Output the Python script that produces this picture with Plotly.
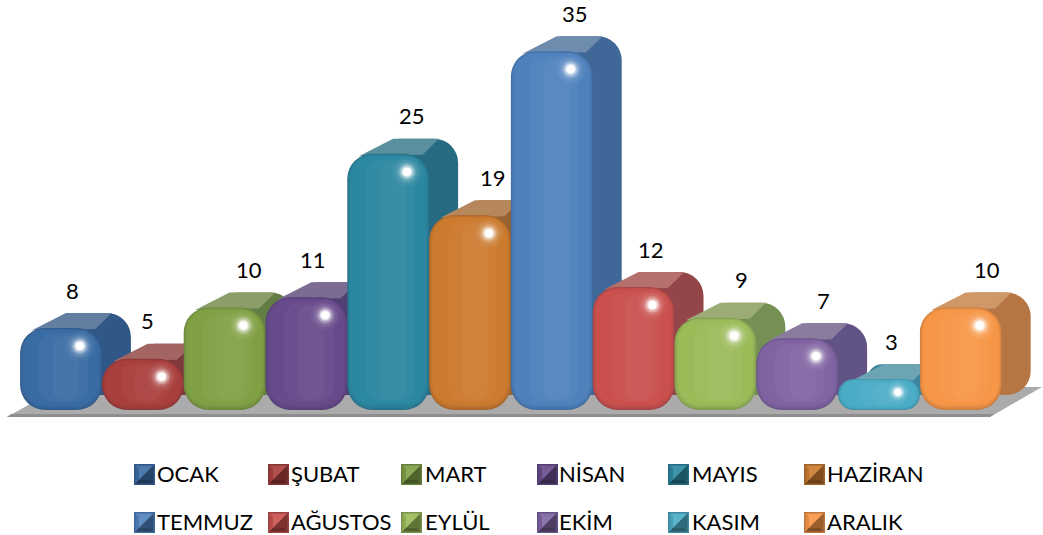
import plotly.graph_objects as go

# ---------- data ----------
months = ["OCAK", "ŞUBAT", "MART", "NİSAN", "MAYIS", "HAZİRAN",
          "TEMMUZ", "AĞUSTOS", "EYLÜL", "EKİM", "KASIM", "ARALIK"]
values = [8, 5, 10, 11, 25, 19, 35, 12, 9, 7, 3, 10]

# ---------- styles ----------
base_colors = ["#3A6CA4", "#A93F3C", "#80A044", "#674A8A", "#2C87A0", "#CB7A2E",
               "#4F81BD", "#C9504D", "#9BBB59", "#8064A2", "#4BACC6", "#F79646"]
label_dx = [11, 5, 24, 7, 24, 23, 23, 17, 26, 26, 12, 26]
swatch_x = [134, 268, 401, 537, 668, 804]
text_x = [158, 292, 426, 560, 693, 828]
row_y = [464, 512]

W, H = 1043, 535
X0, STEP = 61.0, 81.8       # px of first category, px per category
Y0, UNIT = 410.0, 10.25     # px of zero, px per value unit
x_range = [-X0 / STEP, (W - X0) / STEP]
y_range = [-(H - Y0) / UNIT, Y0 / UNIT]
DX = 29 / STEP
DY = 15 / UNIT


def mix(c, other, t):
    a = [int(c[i:i + 2], 16) for i in (1, 3, 5)]
    b = [int(other[i:i + 2], 16) for i in (1, 3, 5)]
    return "#%02X%02X%02X" % tuple(round(p + (q - p) * t) for p, q in zip(a, b))


fig = go.Figure()
layout_axes = {}
n_axes = 0


def new_axes():
    global n_axes
    n_axes += 1
    sfx = "" if n_axes == 1 else str(n_axes)
    xa = dict(range=x_range, domain=[0, 1], visible=False, fixedrange=True)
    ya = dict(range=y_range, domain=[0, 1], visible=False, fixedrange=True)
    if n_axes > 1:
        xa["overlaying"] = "x"
        ya["overlaying"] = "y"
        xa["anchor"] = "y" + sfx
        ya["anchor"] = "x" + sfx
    layout_axes["xaxis" + sfx] = xa
    layout_axes["yaxis" + sfx] = ya
    return "x" + sfx, "y" + sfx


def face(x, bottom, top, width, color, radius, ax):
    """A box with all four corners rounded (a bar with a non-zero base rounds both ends)."""
    fig.add_trace(go.Bar(x=[x], y=[top - (bottom + 0.001)], base=[bottom + 0.001], width=[width],
                         xaxis=ax[0], yaxis=ax[1], showlegend=False, hoverinfo="skip",
                         marker=dict(color=color, line=dict(width=0), cornerradius=radius)))


for i, (name, v, c) in enumerate(zip(months, values, base_colors)):
    # depth: side and top faces
    ax = new_axes()
    side = mix(c, "#1A2A40", 0.30)
    topc = mix(c, "#9A9A9A", 0.42)
    face(i + DX, DY, v + DY, 1.0, side, 24, ax)
    fig.add_trace(go.Scatter(
        x=[i - 0.36, i + 0.06, i + 0.62, i + 0.42],
        y=[v - 0.25, v + DY, v + DY, v - 0.1],
        fill="toself", fillcolor=topc, mode="none",
        xaxis=ax[0], yaxis=ax[1], showlegend=False, hoverinfo="skip"))
    # front face: nested boxes give the bevel shading
    ax = new_axes()
    h = v * UNIT
    inset = min(1.0, h / 60)
    face(i, 0, v, 1.0, mix(c, "#101828", 0.20), 25, ax)
    face(i, 0.12 * inset, v - 0.05 * inset, 0.985, mix(c, "#101828", 0.12), 24, ax)
    face(i, 0.28 * inset, v - 0.12 * inset, 0.96, mix(c, "#101828", 0.05), 23, ax)
    face(i, 0.50 * inset, v - 0.22 * inset, 0.92, c, 21, ax)
    face(i + 0.03, 0.8 * inset, v - 0.5 * inset, 0.60, mix(c, "#FFFFFF", 0.03), 15, ax)
    face(i + 0.06, 1.0 * inset, v - 0.8 * inset, 0.32, mix(c, "#FFFFFF", 0.06), 10, ax)
    # specular highlight
    hx = i + 0.23
    hy = v - min(1.75, 0.42 * v)
    for size, t, op in [(30, 0.25, 0.18), (24, 0.35, 0.25), (19, 0.5, 0.35), (15, 0.7, 0.55),
                        (11, 0.88, 0.8), (8, 1.0, 1.0)]:
        fig.add_trace(go.Scatter(
            x=[hx], y=[hy], mode="markers",
            marker=dict(size=size if v > 4 else size * 0.8, color=mix(c, "#FFFFFF", t), opacity=op,
                        line=dict(width=0)),
            xaxis=ax[0], yaxis=ax[1], showlegend=False, hoverinfo="skip"))

annotations = []
# value labels
for i, v in enumerate(values):
    annotations.append(dict(x=i, y=v, xref="x", yref="y", text=str(v), showarrow=False,
                            xshift=label_dx[i], yshift=38, xanchor="center", yanchor="middle",
                            font=dict(family="Lato, Carlito, sans-serif", size=22, color="#000000")))


def px(x):
    return x / W


def py(y):
    return 1 - y / H


def poly(points, fill, line="rgba(0,0,0,0)"):
    path = "M " + " L ".join(f"{px(a):.5f},{py(b):.5f}" for a, b in points) + " Z"
    return dict(type="path", path=path, xref="paper", yref="paper", fillcolor=fill,
                line=dict(color=line, width=0), layer="below")


shapes = [
    poly([(7, 417), (990, 417), (1042, 387), (60, 387)], "#ABABAB"),
    poly([(7, 417), (990, 417), (994, 414), (11, 414)], "#8E8E8E"),
]

# legend: bevelled swatches with real text
S = 21
B = 5
for i, (name, c) in enumerate(zip(months, base_colors)):
    row, col = i // 6, i % 6
    x, y = swatch_x[col], row_y[row]
    a, b, d, e = x, x + S, y, y + S
    shapes.append(poly([(a, d), (b, d), (b, e), (a, e)], mix(c, "#101828", 0.25)))
    a2, b2, d2, e2 = a + 1.5, b - 1.5, d + 1.5, e - 1.5
    i1, i2, j1, j2 = a + B, b - B, d + B, e - B
    shapes.append(poly([(a2, d2), (b2, d2), (i2, j1), (i1, j1)], mix(c, "#FFFFFF", 0.08)))
    shapes.append(poly([(a2, d2), (i1, j1), (i1, j2), (a2, e2)], mix(c, "#000000", 0.08)))
    shapes.append(poly([(b2, d2), (i2, j1), (i2, j2), (b2, e2)], mix(c, "#000000", 0.38)))
    shapes.append(poly([(a2, e2), (i1, j2), (i2, j2), (b2, e2)], mix(c, "#000000", 0.48)))
    shapes.append(poly([(i1, j1), (i2, j1), (i1, j2)], mix(c, "#FFFFFF", 0.1)))
    shapes.append(poly([(i2, j1), (i2, j2), (i1, j2)], mix(c, "#000000", 0.38)))
    annotations.append(dict(x=px(text_x[col]), y=py(y + S / 2), xref="paper", yref="paper",
                            text=name, showarrow=False, xanchor="left", yanchor="middle",
                            xshift=-3, yshift=1, font=dict(family="Lato, Carlito, sans-serif", size=22, color="#000000")))

fig.update_layout(
    width=W, height=H, margin=dict(l=0, r=0, t=0, b=0),
    paper_bgcolor="#FFFFFF", plot_bgcolor="rgba(0,0,0,0)",
    barmode="overlay", showlegend=False,
    shapes=shapes, annotations=annotations, **layout_axes)

fig.write_html("out.html", config={"displayModeBar": False},
               post_script="document.body.style.margin='0';document.body.style.overflow='hidden';")
